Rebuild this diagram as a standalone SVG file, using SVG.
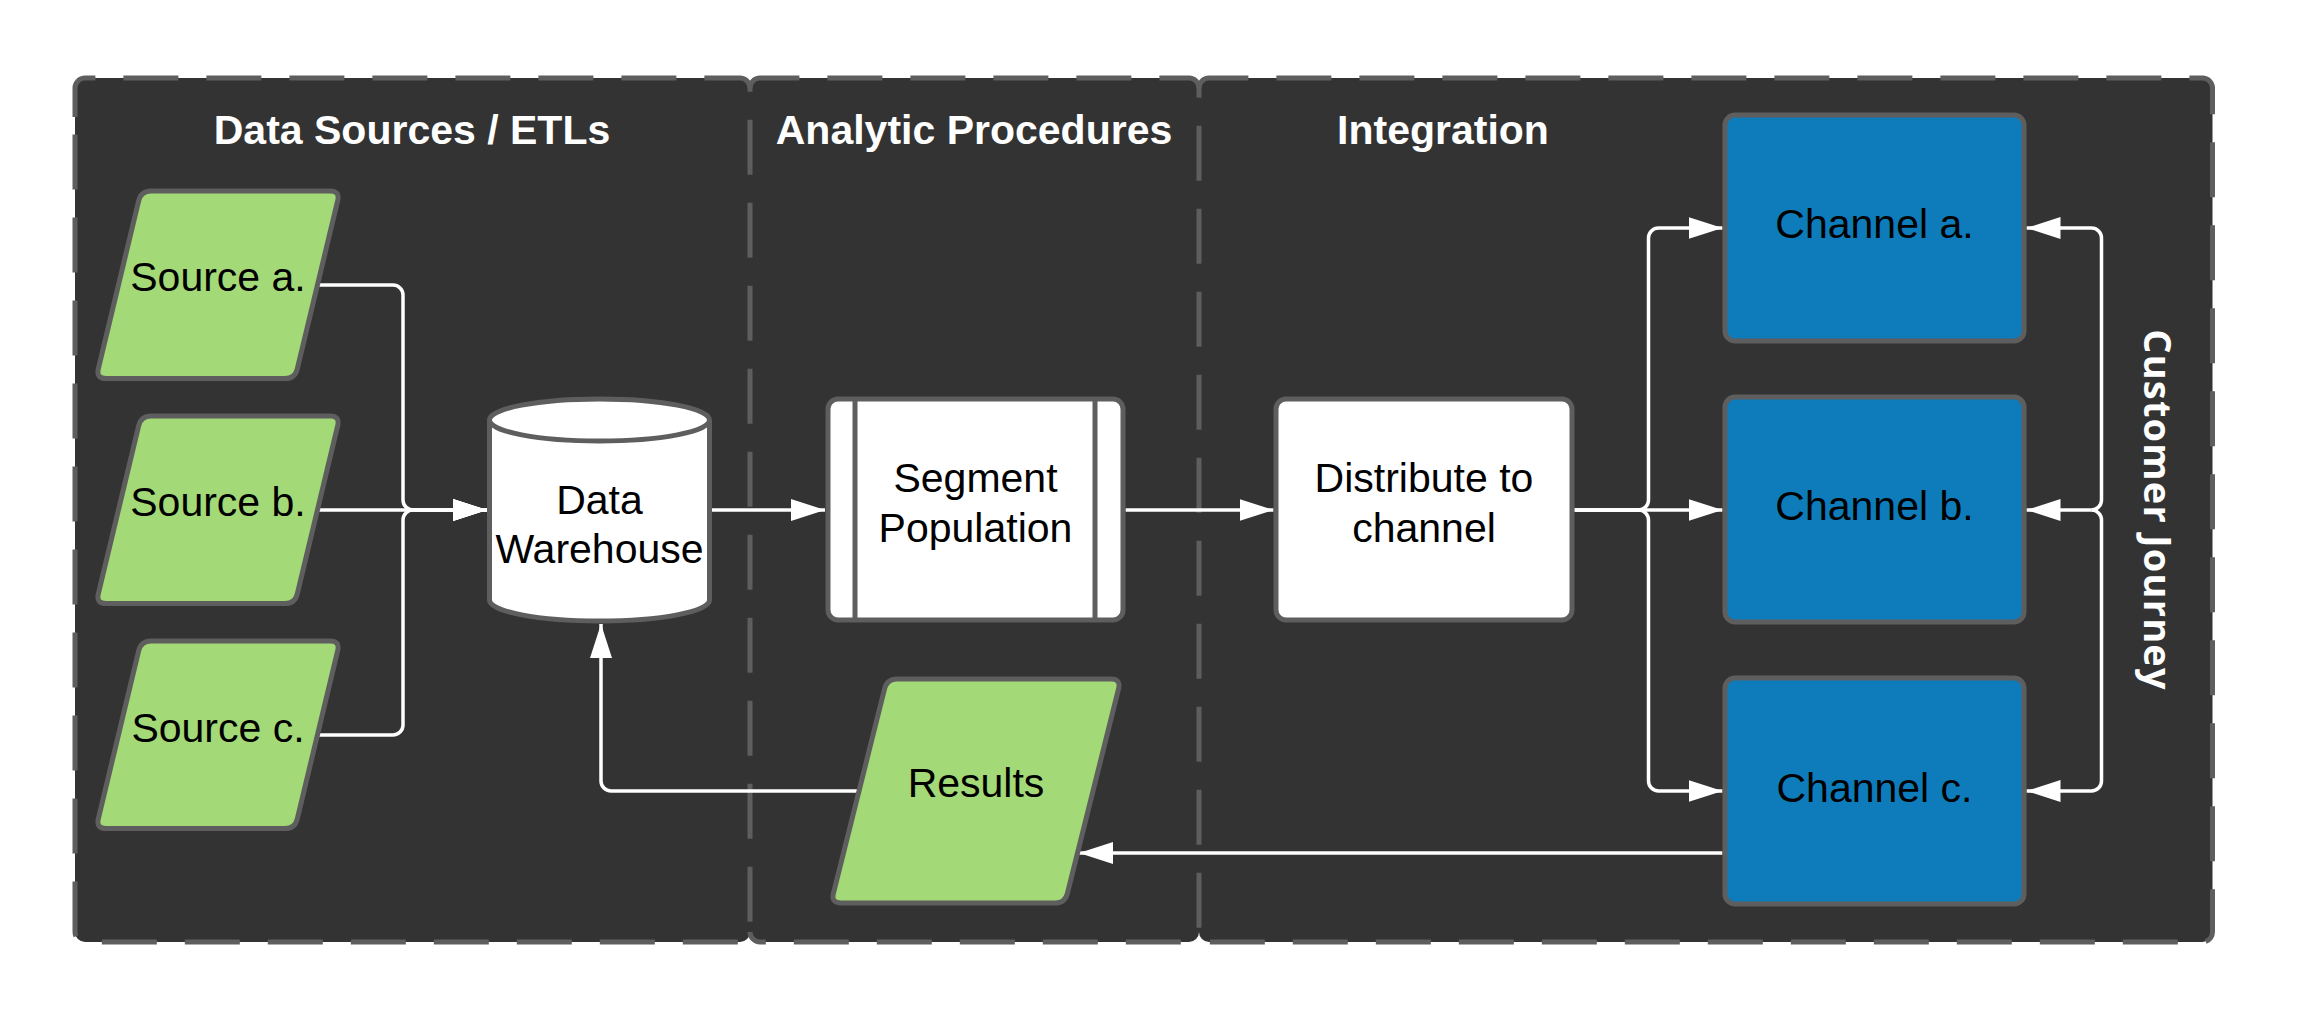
<svg xmlns="http://www.w3.org/2000/svg" width="2303" height="1016" viewBox="0 0 2303 1016">
<defs>
<marker id="arrow" viewBox="0 0 34 22" refX="34" refY="11" markerWidth="34" markerHeight="22" markerUnits="userSpaceOnUse" orient="auto"><path d="M0,0 L34,11 L0,22 Z" fill="#ffffff"/></marker>
</defs>
<style>
.lane{fill:#333333;stroke:none}
.lane-border{fill:none;stroke:#5e5e5e;stroke-width:5;stroke-dasharray:55 28}
.title{font-family:"Liberation Sans",Arial,sans-serif;font-weight:bold;font-size:41px;fill:#ffffff;text-anchor:middle}
.vtitle{font-family:"Open Sans",Lato,sans-serif;font-weight:bold;font-size:38px;letter-spacing:1.2px;fill:#ffffff;text-anchor:middle}
.green{fill:#a3d977;stroke:#5e5e5e;stroke-width:5}
.white{fill:#ffffff;stroke:#5e5e5e;stroke-width:5}
.blue{fill:#0e7cba;stroke:#5e5e5e;stroke-width:5}
.edge{fill:none;stroke:#5e5e5e;stroke-width:5}
.label{font-family:"Liberation Sans",Arial,sans-serif;font-size:41px;fill:#000000;text-anchor:middle}
.conn{fill:none;stroke:#ffffff;stroke-width:3.5;marker-end:url(#arrow)}
</style>
<rect width="2303" height="1016" fill="#ffffff"/>
<g id="lanes">
<rect class="lane" x="75" y="78" width="675" height="864" rx="10"/>
<rect class="lane" x="750" y="78" width="449" height="864" rx="10"/>
<rect class="lane" x="1199" y="78" width="1013.5" height="864" rx="10"/>
<path class="lane-border" d="M75,117 V88 A10,10 0 0 1 85,78 H740 A10,10 0 0 1 750,88 V932 A10,10 0 0 1 740,942 H85 A10,10 0 0 1 75,932 Z"/>
<path class="lane-border" d="M750,88 A10,10 0 0 1 760,78 H1189 A10,10 0 0 1 1199,88 V932 A10,10 0 0 1 1189,942 H760 A10,10 0 0 1 750,932"/>
<path class="lane-border" d="M1199,88 A10,10 0 0 1 1209,78 H2202.5 A10,10 0 0 1 2212.5,88 V932 A10,10 0 0 1 2202.5,942 H1209 A10,10 0 0 1 1199,932"/>
<text class="title" x="412" y="144">Data Sources / ETLs</text>
<text class="title" x="974" y="144">Analytic Procedures</text>
<text class="title" x="1443" y="144">Integration</text>
<text class="vtitle" transform="translate(2144,510) rotate(90)">Customer Journey</text>
</g>
<g id="connectors">
<path class="conn" d="M318,285 H393 A10,10 0 0 1 403,295 V500 A10,10 0 0 0 413,510 H487"/>
<path class="conn" d="M318,510 H487"/>
<path class="conn" d="M318,735 H393 A10,10 0 0 0 403,725 V520 A10,10 0 0 1 413,510 H487"/>
<path class="conn" d="M712,510 H825"/>
<path class="conn" d="M1125.5,510 H1273.5"/>
<path class="conn" d="M1574.5,510 H1638.5 A10,10 0 0 0 1648.5,500 V238 A10,10 0 0 1 1658.5,228 H1722.5"/>
<path class="conn" d="M1574.5,510 H1722.5"/>
<path class="conn" d="M1574.5,510 H1638.5 A10,10 0 0 1 1648.5,520 V781 A10,10 0 0 0 1658.5,791 H1722.5"/>
<path class="conn" d="M2091.5,510 A10,10 0 0 0 2101.5,500 V238 A10,10 0 0 0 2091.5,228 H2026.5"/>
<path class="conn" d="M2091.5,510 H2026.5"/>
<path class="conn" d="M2091.5,510 A10,10 0 0 1 2101.5,520 V781 A10,10 0 0 1 2091.5,791 H2026.5"/>
<path class="conn" d="M1722.5,853 H1079"/>
<path class="conn" d="M857,791 H611 A10,10 0 0 1 601,781 V624"/>
</g>
<g id="source-a">
<path class="green" d="M151,191 H330 Q340,191 337.7,200.7 L297.3,368.8 Q295,378.5 285,378.5 H106 Q96,378.5 98.3,368.8 L138.7,200.7 Q141,191 151,191 Z"/>
<text class="label" x="218" y="291">Source a.</text>
</g>
<g id="source-b">
<path class="green" transform="translate(0,225)" d="M151,191 H330 Q340,191 337.7,200.7 L297.3,368.8 Q295,378.5 285,378.5 H106 Q96,378.5 98.3,368.8 L138.7,200.7 Q141,191 151,191 Z"/>
<text class="label" x="218" y="516">Source b.</text>
</g>
<g id="source-c">
<path class="green" transform="translate(0,450)" d="M151,191 H330 Q340,191 337.7,200.7 L297.3,368.8 Q295,378.5 285,378.5 H106 Q96,378.5 98.3,368.8 L138.7,200.7 Q141,191 151,191 Z"/>
<text class="label" x="218" y="741.5">Source c.</text>
</g>
<g id="data-warehouse">
<path class="white" d="M489.5,420 A110,21 0 0 1 709.5,420 V600 A110,21 0 0 1 489.5,600 Z"/>
<path class="edge" d="M489.5,420 A110,21 0 0 0 709.5,420"/>
<text class="label" x="599.5" y="514">Data</text>
<text class="label" x="599.5" y="563">Warehouse</text>
</g>
<g id="segment-population">
<rect class="white" x="828" y="399" width="295" height="221" rx="10"/>
<line class="edge" x1="855" y1="399" x2="855" y2="620"/>
<line class="edge" x1="1095" y1="399" x2="1095" y2="620"/>
<text class="label" x="975.5" y="491.7">Segment</text>
<text class="label" x="975.5" y="541.7">Population</text>
</g>
<g id="distribute">
<rect class="white" x="1276" y="399" width="296" height="221" rx="10"/>
<text class="label" x="1424" y="491.7">Distribute to</text>
<text class="label" x="1424" y="541.7">channel</text>
</g>
<g id="results">
<path class="green" d="M897,679 H1111 Q1121,679 1118.6,688.7 L1067.4,893.3 Q1065,903 1055,903 H841 Q831,903 833.4,893.3 L884.6,688.7 Q887,679 897,679 Z"/>
<text class="label" x="976" y="796.7">Results</text>
</g>
<g id="channel-a">
<rect class="blue" x="1725" y="115" width="299" height="226" rx="10"/>
<text class="label" x="1874.5" y="238">Channel a.</text>
</g>
<g id="channel-b">
<rect class="blue" x="1725" y="397" width="299" height="225" rx="10"/>
<text class="label" x="1874.5" y="520">Channel b.</text>
</g>
<g id="channel-c">
<rect class="blue" x="1725" y="678" width="299" height="226" rx="10"/>
<text class="label" x="1874.5" y="801.7">Channel c.</text>
</g>
</svg>
